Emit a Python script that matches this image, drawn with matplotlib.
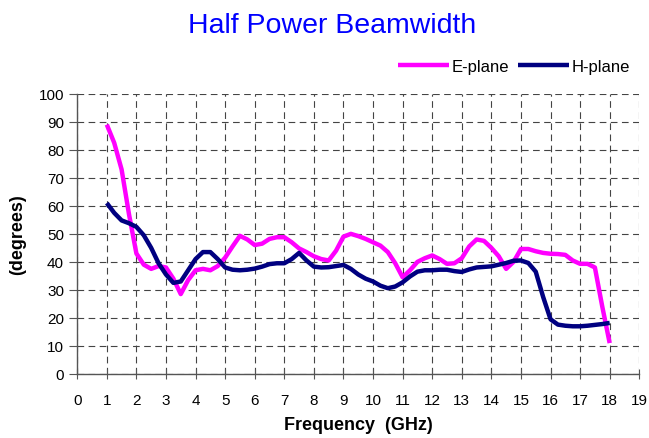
import matplotlib
matplotlib.use("Agg")
import matplotlib.pyplot as plt

plt.rcParams["font.family"] = ["Liberation Sans", "DejaVu Sans"]

freq = [1.0, 1.25, 1.5, 1.75, 2.0, 2.25, 2.5, 2.75, 3.0, 3.25, 3.5, 3.75,
        4.0, 4.25, 4.5, 4.75, 5.0, 5.25, 5.5, 5.75, 6.0, 6.25, 6.5, 6.75,
        7.0, 7.25, 7.5, 7.75, 8.0, 8.25, 8.5, 8.75, 9.0, 9.25, 9.5, 9.75,
        10.0, 10.25, 10.5, 10.75, 11.0, 11.25, 11.5, 11.75, 12.0, 12.25, 12.5, 12.75,
        13.0, 13.25, 13.5, 13.75, 14.0, 14.25, 14.5, 14.75, 15.0, 15.25, 15.5, 15.75,
        16.0, 16.25, 16.5, 16.75, 17.0, 17.25, 17.5, 17.75, 18.0]

# E-plane half power beamwidth (degrees)
e_plane = [89, 82.5, 73, 57, 43, 39, 37.5, 38.5, 38, 34, 28.5, 33.5,
           37, 37.5, 37, 38.5, 41.5, 45.5, 49.3, 48, 46, 46.5, 48.2, 48.8,
           48.8, 47, 44.8, 43.5, 42, 41, 40.5, 44, 49, 50, 49.2, 48.2,
           47, 45.8, 43.5, 39.5, 34.5, 37, 40, 41.3, 42.3, 41, 39.3, 39.5,
           41.3, 45.5, 48, 47.5, 45, 42, 37.5, 40, 44.6, 44.6, 43.8, 43.2,
           42.9, 42.8, 42.5, 40.5, 39.3, 39.3, 38, 24, 11]

# H-plane half power beamwidth (degrees)
h_plane = [61, 57.5, 54.8, 53.8, 52.5, 49.5, 45, 39.5, 35.5, 32.5, 33, 37,
           41, 43.5, 43.5, 41, 38, 37.2, 37, 37.2, 37.6, 38.3, 39.2, 39.5,
           39.5, 41, 43.2, 40.5, 38.3, 38, 38.1, 38.5, 38.9, 37.5, 35.5, 34,
           33, 31.5, 30.6, 31.2, 32.7, 34.8, 36.5, 37, 37, 37.2, 37.2, 36.7,
           36.4, 37.3, 38, 38.2, 38.4, 39, 39.6, 40.4, 40.5, 39.6, 36.5, 27.5,
           19.5, 17.6, 17.2, 17, 17, 17.2, 17.5, 17.8, 18.2]

fig = plt.figure(figsize=(6.49, 4.39), dpi=100)
ax = fig.add_axes([0.119, 0.146, 0.866, 0.638])

ax.plot(freq, e_plane, color="#FF00FF", lw=3.2, label="E-plane",
        solid_joinstyle="round", solid_capstyle="butt")
ax.plot(freq, h_plane, color="#000080", lw=3.2, label="H-plane",
        solid_joinstyle="round", solid_capstyle="butt")

ax.set_xlim(0, 19)
ax.set_ylim(0, 100)
ax.set_xticks(range(0, 20))
ax.set_yticks(range(0, 101, 10))
ax.grid(True, color="#444444", lw=0.8, linestyle=(0, (6, 4)))
ax.set_axisbelow(True)

for s in ["top", "right"]:
    ax.spines[s].set_visible(False)
for s in ["left", "bottom"]:
    ax.spines[s].set_color("#555555")
    ax.spines[s].set_linewidth(1.0)

ax.tick_params(axis="x", direction="inout", length=7, color="#555555", labelsize=11, pad=10)
ax.tick_params(axis="y", direction="out", length=6, color="#555555", labelsize=11)

ax.set_xlabel("Frequency  (GHz)", fontsize=13, fontweight="bold", labelpad=7)
ax.set_ylabel("(degrees)", fontsize=13, fontweight="bold", labelpad=9)

fig.text(0.511, 0.941, "Half Power Beamwidth", color="#0000FF", fontsize=20.5,
         ha="center", va="center")

ax.legend(loc="center right", bbox_to_anchor=(0.983, 1.097), ncol=2, frameon=False,
          fontsize=12, handlelength=3.05, handletextpad=0.15, columnspacing=0.55,
          borderaxespad=0, borderpad=0)

fig.savefig("out.png", dpi=100)
